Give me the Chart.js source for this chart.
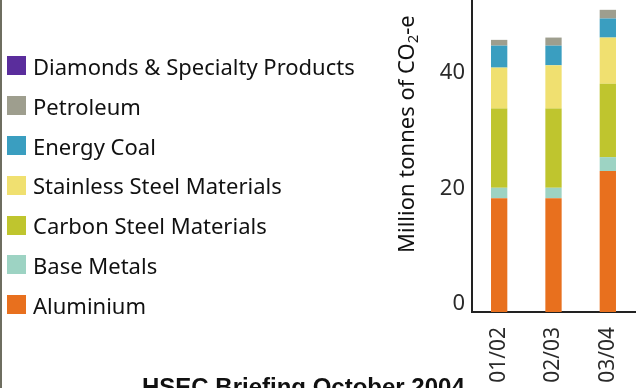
<!DOCTYPE html>
<html>
<head>
<meta charset="utf-8">
<title>CO2-e emissions by business</title>
<script src="https://cdn.jsdelivr.net/npm/chart.js@4/dist/chart.umd.min.js"></script>
<style>
    html, body { margin: 0; padding: 0; background: #fff; }
    #page { position: relative; width: 643px; height: 388px; overflow: hidden; }
    #edge { position: absolute; left: 0; top: 0; width: 2px; height: 388px; background: #6e6e60; }
    #chart { position: absolute; left: 0; top: 0; }
    #legend { position: absolute; left: 7px; top: 46px; }
    .legend-row { display: flex; align-items: center; height: 39.8px; }
    .legend-box { width: 19px; height: 19px; margin-right: 7px; flex: none; }
    .legend-text { font: 22px "Noto Sans"; color: #111; line-height: 40px; white-space: nowrap; }
    #footer { position: absolute; left: 142px; top: 375px; font: bold 24px "Liberation Sans", Arial, sans-serif; line-height: 24px; color: #111; white-space: nowrap; }
</style>
</head>
<body>
<div id="page">
    <div id="edge"></div>
    <canvas id="chart" width="643" height="388"></canvas>
    <div id="legend"></div>
    <div id="footer">HSEC Briefing October 2004</div>
</div>
<script>
// Emissions data (Million tonnes CO2-e), stacked bottom to top
const years = ['01/02', '02/03', '03/04'];
const aluminium = [19.7, 19.7, 24.4];
const baseMetals = [1.8, 1.8, 2.4];
const carbonSteel = [13.7, 13.7, 12.7];
const stainlessSteel = [7.1, 7.5, 8.0];
const energyCoal = [3.8, 3.4, 3.3];
const petroleum = [1.0, 1.4, 1.5];
const diamonds = [0, 0, 0];
const yTicks = [0, 20, 40];

const seriesNames = [
    'Aluminium',
    'Base Metals',
    'Carbon Steel Materials',
    'Stainless Steel Materials',
    'Energy Coal',
    'Petroleum',
    'Diamonds & Specialty Products'
];
const seriesValues = [aluminium, baseMetals, carbonSteel, stainlessSteel, energyCoal, petroleum, diamonds];
const seriesColors = ['#e8701e', '#9dd3c3', '#bfc52e', '#f0e070', '#3a9ec0', '#9e9e8e', '#5a2d9c'];

const textFont = 'Noto Sans';

// Y axis title with a real subscript in CO2
const yTitlePlugin = {
    id: 'yTitle',
    afterDraw(chart) {
        const ctx = chart.ctx;
        const scale = chart.scales.y;
        ctx.save();
        ctx.translate(scale.left + 34, chart.chartArea.bottom - 59);
        ctx.rotate(-Math.PI / 2);
        ctx.fillStyle = '#111';
        ctx.textBaseline = 'alphabetic';
        ctx.textAlign = 'left';
        let x = 0;
        ctx.font = '22px "' + textFont + '"';
        ctx.fillText('Million tonnes of CO', x, 0);
        x += ctx.measureText('Million tonnes of CO').width;
        ctx.font = '15px "' + textFont + '"';
        ctx.fillText('2', x, 4);
        x += ctx.measureText('2').width;
        ctx.font = '22px "' + textFont + '"';
        ctx.fillText('-e', x, 0);
        ctx.restore();
    }
};

function buildLegend() {
    const legend = document.getElementById('legend');
    for (let i = seriesNames.length - 1; i >= 0; i--) {
        const row = document.createElement('div');
        row.className = 'legend-row';
        const box = document.createElement('span');
        box.className = 'legend-box';
        box.style.background = seriesColors[i];
        const text = document.createElement('span');
        text.className = 'legend-text';
        text.textContent = seriesNames[i];
        row.appendChild(box);
        row.appendChild(text);
        legend.appendChild(row);
    }
}

function initChart() {
    const ctx = document.getElementById('chart');
    new Chart(ctx, {
        type: 'bar',
        data: {
            labels: years,
            datasets: seriesNames.map((name, i) => ({
                label: name,
                data: seriesValues[i],
                backgroundColor: seriesColors[i],
                borderWidth: 0,
                barPercentage: 0.3,
                categoryPercentage: 1
            }))
        },
        options: {
            responsive: false,
            animation: false,
            devicePixelRatio: 1,
            layout: { padding: { left: 380, right: 8, top: 0, bottom: 0 } },
            plugins: {
                legend: { display: false },
                tooltip: { enabled: false }
            },
            scales: {
                x: {
                    stacked: true,
                    grid: { display: false, drawTicks: false },
                    border: { color: '#222', width: 2 },
                    ticks: {
                        minRotation: 90,
                        maxRotation: 90,
                        padding: 15,
                        color: '#2a2a2a',
                        font: { family: textFont, size: 21 }
                    },
                    afterFit(scale) {
                        scale.height = 76;
                        scale.paddingLeft = 0;
                        scale.paddingRight = 0;
                    }
                },
                y: {
                    stacked: true,
                    min: 0,
                    max: 54,
                    grid: { display: false, drawTicks: false },
                    border: { color: '#222', width: 2 },
                    afterBuildTicks(scale) {
                        scale.ticks = yTicks.map(v => ({ value: v }));
                    },
                    ticks: {
                        padding: 7,
                        labelOffset: -8,
                        color: '#2a2a2a',
                        font: { family: textFont, size: 22 }
                    },
                    afterFit(scale) {
                        scale.width = 92;
                        scale.paddingTop = 0;
                        scale.paddingBottom = 0;
                    }
                }
            }
        },
        plugins: [yTitlePlugin]
    });
}

document.addEventListener('DOMContentLoaded', function () {
    buildLegend();
    initChart();
});
</script>
</body>
</html>
